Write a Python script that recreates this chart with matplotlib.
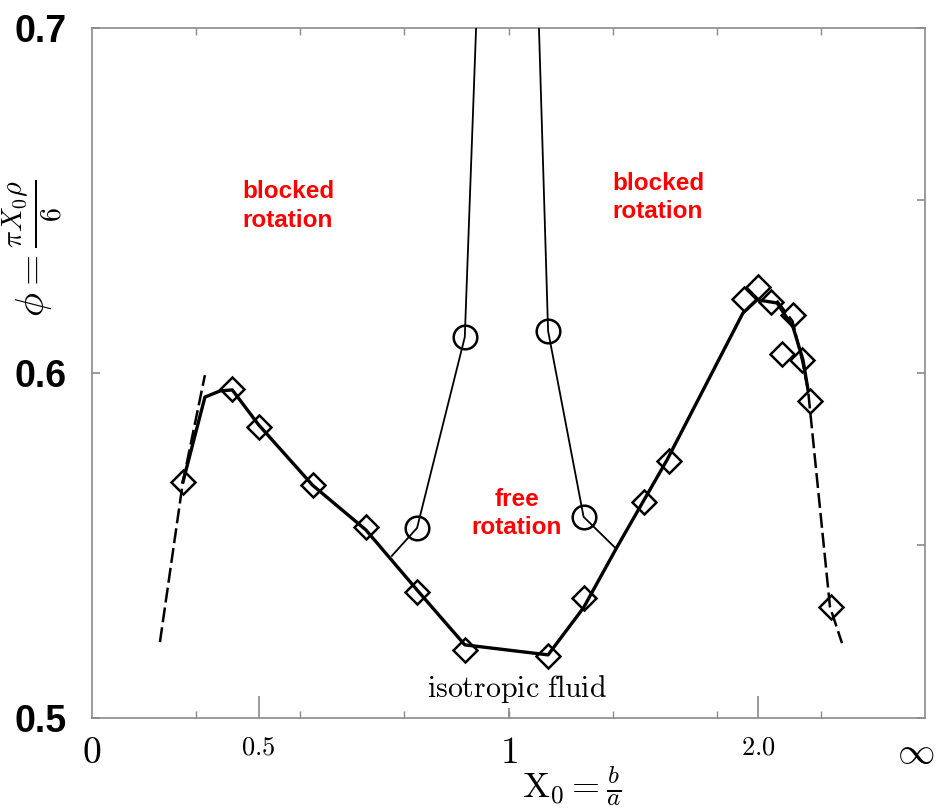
import numpy as np
import matplotlib
matplotlib.use("Agg")
import matplotlib.pyplot as plt
from matplotlib.transforms import ScaledTranslation

plt.rcParams["mathtext.fontset"] = "cm"

# compactified aspect-ratio axis: X0 -> 2 X0^2 / (1 + X0^2), so 1 sits mid-axis and infinity at the edge
X_INF = 1e6


def fwd(x):
    x = np.asarray(x, dtype=float)
    return 2.0 - 2.0 / (1.0 + x ** 2)


def inv(u):
    u = np.clip(np.asarray(u, dtype=float), 0.0, 2.0 - 1e-12)
    return np.sqrt(u / (2.0 - u))


# simulation points (open diamonds)
sim_x0 = [0.35, 0.45, 0.50, 0.60, 0.70, 0.80, 0.90, 1.10, 1.20, 1.40, 1.50,
          1.90, 2.00, 2.10, 2.20, 2.30, 2.40, 2.50, 2.80]
sim_phi = [0.5684, 0.5954, 0.5843, 0.5675, 0.5554, 0.5365, 0.5197, 0.5180, 0.5348, 0.5626, 0.5745,
           0.6214, 0.6249, 0.6206, 0.6055, 0.6168, 0.6038, 0.5919, 0.5322]

# freezing line (thick solid)
freeze_x0 = [0.35, 0.396, 0.426, 0.45, 0.50, 0.60, 0.70, 0.80, 0.90, 1.10, 1.20,
             1.306, 1.493, 1.891, 1.990, 2.152, 2.305, 2.414, 2.474]
freeze_phi = [0.5684, 0.5930, 0.5948, 0.5951, 0.5850, 0.5675, 0.5545, 0.5371, 0.5212, 0.5183, 0.5320,
              0.5496, 0.5748, 0.6174, 0.6212, 0.6203, 0.6133, 0.6038, 0.5951]

# extrapolated ends (dashed)
left_ext_x0 = [0.298, 0.35, 0.396]
left_ext_phi = [0.522, 0.5684, 0.5994]
right_ext_x0 = [2.15, 2.30, 2.41, 2.474, 2.787, 3.006]
right_ext_phi = [0.6210, 0.6150, 0.6030, 0.5951, 0.5322, 0.5217]

# rotator-phase boundary (open circles, thin line)
rot_x0 = [0.80, 0.90, 1.10, 1.20]
rot_phi = [0.5551, 0.6104, 0.6122, 0.5583]
rot_left_x0 = [0.75, 0.80, 0.90, 0.925]
rot_left_phi = [0.547, 0.5551, 0.6104, 0.70]
rot_right_x0 = [1.076, 1.10, 1.20, 1.30]
rot_right_phi = [0.70, 0.6122, 0.5583, 0.5493]

xtick_vals = [0, 0.5, 1, 2, X_INF]
xtick_labels = ["$0$", "$0.5$", "$1$", "$2.0$", r"$\infty$"]
xtick_sizes = [27, 19, 27, 19, 27]
xtick_lens = [0, 16, 7, 16, 0]
ytick_vals = [0.5, 0.6, 0.7]
ytick_labels = ["0.5", "0.6", "0.7"]

fig = plt.figure(figsize=(9.41, 8.09), dpi=100)
ax = fig.add_axes([92 / 941, 1 - 718 / 809, 833 / 941, 690 / 809])
ax.set_xscale("function", functions=(fwd, inv))
ax.set_xlim(0, X_INF)
ax.set_ylim(0.5, 0.7)

ax.plot(left_ext_x0, left_ext_phi, color="black", lw=1.8, ls=(0, (6, 2)), zorder=2)
ax.plot(right_ext_x0, right_ext_phi, color="black", lw=1.8, ls=(0, (6, 2)), zorder=2)
ax.plot(freeze_x0, freeze_phi, color="black", lw=2.4, zorder=3)
ax.plot(rot_left_x0, rot_left_phi, color="black", lw=1.3, zorder=3)
ax.plot(rot_right_x0, rot_right_phi, color="black", lw=1.3, zorder=3)
ax.plot(sim_x0, sim_phi, ls="none", marker="D", ms=12.5, mfc="none", mec="black", mew=1.8, zorder=4)
ax.plot(rot_x0, rot_phi, ls="none", marker="o", ms=17, mfc="none", mec="black", mew=1.8, zorder=4)

red = dict(color="red", fontsize=17.5, fontweight="bold", family="Liberation Sans", linespacing=1.3)
ax.text(0.4686, 0.6559, "blocked\nrotation", ha="left", va="top", **red)
ax.text(1.289, 0.6583, "blocked\nrotation", ha="left", va="top", **red)
ax.text(1.0206, 0.5667, "free\nrotation", ha="center", va="top", multialignment="center", **red)
ax.text(1.02, 0.5061, r"$\mathrm{isotropic\ fluid}$", ha="center", va="baseline", fontsize=21.5)

gray = "#8a8a8a"
for s in ax.spines.values():
    s.set_color(gray)
    s.set_linewidth(1.2)

# x ticks: compact-axis grid every 0.25 plus labelled aspect ratios
ax.xaxis.remove_overlapping_locs = False
ax.set_xticks(xtick_vals, labels=xtick_labels)
ax.set_xticks(inv(np.arange(0.25, 2.0, 0.25)), minor=True)
ax.tick_params(axis="x", which="major", direction="in", top=False, color=gray, width=1.2, pad=12)
ax.tick_params(axis="x", which="minor", direction="in", top=True, bottom=True, length=5,
               color=gray, width=1.0)
for t, L in zip(ax.xaxis.get_major_ticks(), xtick_lens):
    t.tick1line.set_markersize(L)
for lab, fs in zip(ax.get_xticklabels(), xtick_sizes):
    lab.set_fontsize(fs)
# nudge the infinity label in so it stays on the canvas
inf_tick = ax.xaxis.get_major_ticks()[-1]
inf_tick.label1.set_transform(inf_tick.label1.get_transform()
                              + ScaledTranslation(-9 / 100, 0, fig.dpi_scale_trans))

ax.set_yticks(ytick_vals, labels=ytick_labels)
ax.set_yticks([0.55, 0.65], minor=True)
ax.tick_params(axis="y", which="major", direction="in", left=True, right=True, length=6,
               color=gray, width=1.2, pad=18, labelsize=27)
ax.tick_params(axis="y", which="minor", direction="in", left=False, right=True, length=6,
               color=gray, width=1.2)
for lab in ax.get_yticklabels():
    lab.set_fontweight("bold")
    lab.set_family("Liberation Sans")

fig.text(33 / 941, 1 - 248 / 809, r"$\phi = \frac{\pi X_0\rho}{6}$", rotation=90,
         ha="center", va="center", fontsize=29)
fig.text(572 / 941, 1 - 797 / 809, r"$\mathrm{X}_0 = \frac{b}{a}$", ha="center",
         va="baseline", fontsize=26)

fig.savefig("out.png", dpi=100)
